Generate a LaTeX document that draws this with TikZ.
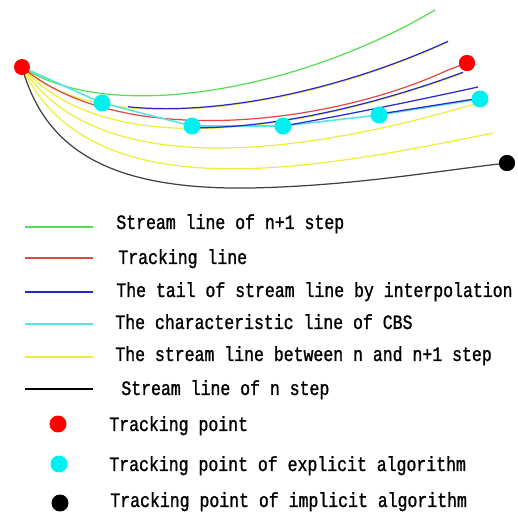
\documentclass[tikz,border=0pt]{standalone}
\usepackage{fontspec}
\usepackage{tikz}
\usetikzlibrary{positioning}
\newfontfamily\legendfont[FakeStretch=0.81, FakeBold=1.2]{Liberation Mono}
\definecolor{slgreen}{HTML}{55DD55}
\definecolor{trkred}{HTML}{E04848}
\definecolor{tailblue}{HTML}{2828C8}
\definecolor{cbscyan}{HTML}{55E5E5}
\definecolor{midyellow}{HTML}{EEEE3A}
\definecolor{nstep}{HTML}{404040}
\definecolor{dotcyan}{HTML}{00F0F0}

\begin{document}
\begin{tikzpicture}[x=0.02cm, y=-0.02cm,
  curve/.style={line width=0.7pt},
  dot/.style={circle, inner sep=0pt, minimum size=0.32cm},
  legtext/.style={anchor=base west, inner sep=0pt,
    font=\legendfont\fontsize{11.6pt}{13pt}\selectfont}]
  \useasboundingbox (0,0) rectangle (518,513);
  % start and end points of the stream lines
  \coordinate (start) at (22,67);
  \coordinate (gEnd) at (435,10);
  \coordinate (y1End) at (448,42);
  \coordinate (y2End) at (463,73);
  \coordinate (y3End) at (478,103);
  \coordinate (y4End) at (493,133);
  \coordinate (nMid) at (250,188);
  \coordinate (rBend) at (448,70);
  \coordinate (b3End) at (478,87);
  \node[dot, fill=red] (trk) at (467,63) {};
  \node[dot, fill=black] (imp) at (507,163) {};
  \coordinate (c1) at (102,103);
  \coordinate (c2) at (192,126);
  \coordinate (c3) at (283,126);
  \coordinate (c4) at (379,115);
  \coordinate (c5) at (480,99);

  % stream lines between n and n+1
  \draw[curve, midyellow] (start) .. controls (100,140) and (300,110) .. (y1End);
  \draw[curve, midyellow] (start) .. controls (110,168) and (320,126) .. (y2End);
  \draw[curve, midyellow] (start) .. controls (100,188) and (320,150) .. (y3End);
  \draw[curve, midyellow] (start) .. controls (90,215) and (320,168) .. (y4End);
  % n and n+1 step
  \draw[curve, nstep] (start) .. controls (45,150) and (110,190) .. (nMid)
    .. controls (350,186) and (430,172) .. (imp.center);
  \draw[curve, slgreen] (start) .. controls (110,125) and (300,90) .. (gEnd);
  % tracking line
  \draw[curve, trkred] (start) .. controls (120,150) and (330,125) .. (rBend) -- (trk.center);
  % characteristic line of CBS
  \draw[curve, cbscyan, line width=0.9pt] (start) -- (c1) -- (c2) -- (c3) -- (c4) -- (c5);
  % tails by interpolation
  \begin{scope}
    \clip (128,0) rectangle (518,200);
    \draw[curve, tailblue, transform canvas={yshift=0.4pt}]
      (start) .. controls (100,140) and (300,110) .. (y1End);
  \end{scope}
  \begin{scope}
    \clip (200,0) rectangle (518,200);
    \draw[curve, tailblue, transform canvas={yshift=0.4pt}]
      (start) .. controls (110,168) and (320,126) .. (y2End);
  \end{scope}
  \draw[curve, tailblue] (c3) .. controls (330,118) and (410,102) .. (b3End);
  \draw[curve, tailblue, transform canvas={yshift=0.5pt}] (c4) -- (c5);

  % tracking points
  \node[dot, fill=red] (orig) at (start) {};
  \node[dot, fill=red] at (trk) {};
  \node[dot, fill=black] at (imp) {};
  \node[dot, fill=dotcyan, minimum size=0.34cm] (p1) at (c1) {};
  \node[dot, fill=dotcyan, minimum size=0.34cm] (p2) at (c2) {};
  \node[dot, fill=dotcyan, minimum size=0.34cm] (p3) at (c3) {};
  \node[dot, fill=dotcyan, minimum size=0.34cm] (p4) at (c4) {};
  \node[dot, fill=dotcyan, minimum size=0.34cm] (p5) at (c5) {};

  % legend
  \draw[curve, slgreen, line width=0.85pt] (25,227) -- (93,227);
  \draw[curve, trkred, line width=0.85pt] (25,258) -- (93,258);
  \draw[curve, tailblue, line width=0.85pt] (25,292) -- (93,292);
  \draw[curve, cbscyan, line width=0.85pt] (25,324) -- (93,324);
  \draw[curve, midyellow, line width=0.85pt] (25,357) -- (93,357);
  \draw[curve, black, line width=0.85pt] (25,389) -- (93,389);
  \node[legtext] (lgreen) at (116,229) {Stream line of n+1 step};
  \node[legtext] (lred) at (118,264) {Tracking line};
  \node[legtext] (lblue) at (116,297) {The tail of stream line by interpolation};
  \node[legtext] (lcyan) at (115,329) {The characteristic line of CBS};
  \node[legtext] (lyellow) at (115,361) {The stream line between n and n+1 step};
  \node[legtext] (lblack) at (121,395) {Stream line of n step};
  \node[dot, fill=red, minimum size=0.34cm] (kred) at (58,424) {};
  \node[dot, fill=dotcyan, minimum size=0.34cm] (kcyan) at (59,464) {};
  \node[dot, fill=black, minimum size=0.34cm] (kblack) at (60,503) {};
  \node[legtext] (ltrk) at (109,431) {Tracking point};
  \node[legtext] (lexp) at (109,471) {Tracking point of explicit algorithm};
  \node[legtext] (limp) at (110,507) {Tracking point of implicit algorithm};
\end{tikzpicture}
\end{document}
